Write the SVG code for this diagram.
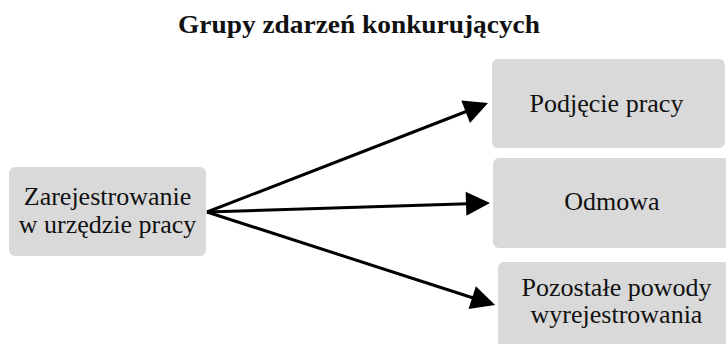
<svg xmlns="http://www.w3.org/2000/svg" width="726" height="344" viewBox="0 0 726 344">
<style>
.box{fill:#d9d9d9;}
.t{font-size:26px;fill:#111;text-anchor:middle;}
.title{font-size:25px;font-weight:bold;fill:#111;text-anchor:middle;}
.c{stroke:#000;stroke-width:3;fill:none;marker-end:url(#ah);}
</style>
<defs>
<marker id="ah" markerUnits="userSpaceOnUse" markerWidth="30" markerHeight="30" viewBox="-4 -15 30 30" refX="0" refY="0" orient="auto">
<path d="M-2,-12 L22,0 L-2,12 z" fill="#000"/>
</marker>
</defs>
<rect width="726" height="344" fill="#fff"/>
<g font-family="'Liberation Serif', 'DejaVu Serif', serif">
<text class="title" x="359" y="33" textLength="362" lengthAdjust="spacingAndGlyphs">Grupy zdarzeń konkurujących</text>
<g id="connectors">
<line class="c" x1="207" y1="212" x2="467.5" y2="111"/>
<line class="c" x1="207" y1="212" x2="468" y2="203.7"/>
<line class="c" x1="207" y1="212" x2="474.1" y2="298.2"/>
</g>
<g id="n-start">
<rect class="box" x="9" y="167" width="197" height="89" rx="6"/>
<text class="t" x="107.5" y="205">Zarejestrowanie</text>
<text class="t" x="107.5" y="233">w urzędzie pracy</text>
</g>
<g id="n-praca">
<rect class="box" x="492" y="59" width="233" height="89" rx="6"/>
<text class="t" x="606.5" y="112">Podjęcie pracy</text>
</g>
<g id="n-odmowa">
<rect class="box" x="493" y="158" width="238" height="90" rx="6"/>
<text class="t" x="612" y="210">Odmowa</text>
</g>
<g id="n-pozostale">
<rect class="box" x="498" y="262" width="240" height="95" rx="6"/>
<text class="t" x="616.5" y="296">Pozostałe powody</text>
<text class="t" x="616.5" y="323">wyrejestrowania</text>
</g>
</g>
</svg>
